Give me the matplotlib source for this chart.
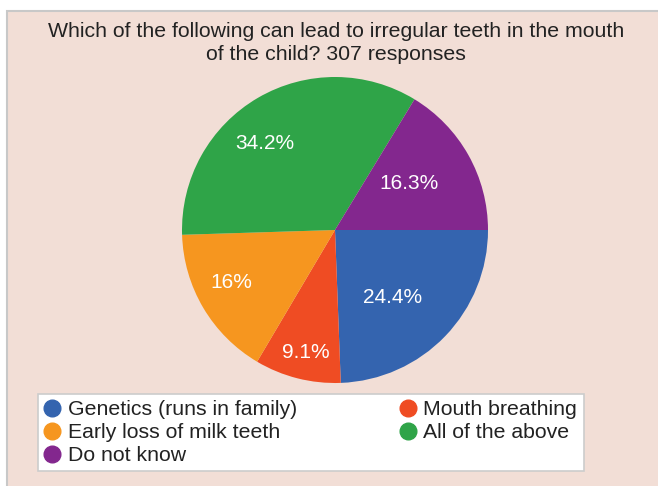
import numpy as np
import matplotlib
matplotlib.use("Agg")
import matplotlib.pyplot as plt
from matplotlib.patches import Rectangle
from matplotlib.lines import Line2D

# -----------------------------
# data
# -----------------------------
title = "Which of the following can lead to irregular teeth in the mouth\nof the child? 307 responses"
labels = ["Genetics (runs in family)", "Mouth breathing", "Early loss of milk teeth",
          "All of the above", "Do not know"]
shares = [24.4, 9.1, 16.0, 34.2, 16.3]
pct_text = ["24.4%", "9.1%", "16%", "34.2%", "16.3%"]
colors = ["#3464AF", "#EF4C23", "#F6961F", "#2FA448", "#83278E"]

# label placement: distance from centre (fraction of radius) and angular nudge (deg)
label_dist = [0.58, 0.82, 0.76, 0.73, 0.57]
label_shift = [-6, 1, -4, 8.6, 2.6]

plt.rcParams["font.family"] = ["Liberation Sans", "DejaVu Sans"]

fig = plt.figure(figsize=(6.58, 4.86), dpi=100, facecolor="white")

# pink panel with grey left/top border
fig.add_artist(Rectangle((7 / 658, -0.1), 1.2, 1.1 - 11 / 486,
                         transform=fig.transFigure, facecolor="#F2DED6",
                         edgecolor="#C8C8C8", linewidth=1.5, zorder=0))

fig.text(0.511, 1 - 22 / 486, title, ha="center", va="top", fontsize=15.3,
         color="#222222", linespacing=1.3)

# -----------------------------
# pie
# -----------------------------
ax = fig.add_axes([182 / 658, 1 - 383 / 486, 306 / 658, 306 / 486])
ax.set_facecolor("none")
wedges, _ = ax.pie(shares, colors=colors, startangle=0, counterclock=False,
                   radius=1.0, wedgeprops=dict(linewidth=0))
ax.set_xlim(-1, 1)
ax.set_ylim(-1, 1)
ax.set_aspect("equal")
ax.axis("off")

for w, txt, d, s in zip(wedges, pct_text, label_dist, label_shift):
    mid = np.deg2rad((w.theta1 + w.theta2) / 2 + s)
    ax.text(d * np.cos(mid), d * np.sin(mid), txt, ha="center", va="center",
            color="white", fontsize=15)

# -----------------------------
# legend
# -----------------------------
order = [0, 2, 4, 1, 3]
handles = [Line2D([], [], marker="o", linestyle="none", markersize=12,
                  markerfacecolor=colors[i], markeredgecolor=colors[i])
           for i in order]
leg = fig.legend(handles, [labels[i] for i in order], ncol=2,
                 loc="upper left", bbox_to_anchor=(38 / 658, 1 - 394 / 486),
                 fontsize=15.3, frameon=True, fancybox=False, framealpha=1,
                 edgecolor="#CCCCCC", facecolor="white", handlelength=0.7,
                 handletextpad=0.4, labelspacing=0.18, borderpad=0.3,
                 columnspacing=4.85, borderaxespad=0)
leg.get_frame().set_linewidth(1.2)
for t in leg.get_texts():
    t.set_color("#222222")

plt.savefig("out.png", dpi=100, facecolor=fig.get_facecolor())
